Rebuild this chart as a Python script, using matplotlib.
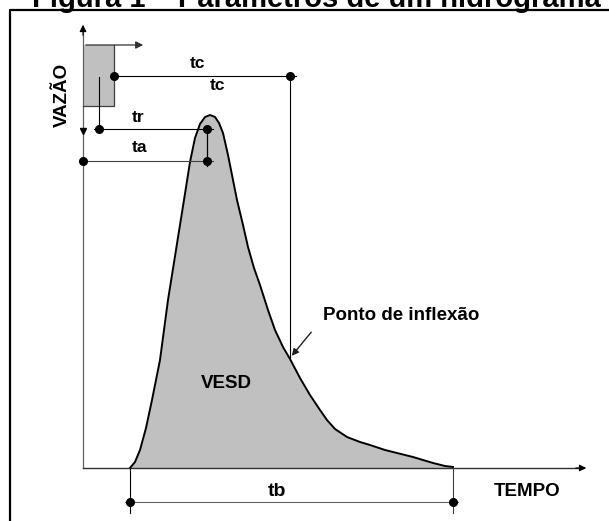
import numpy as np
from matplotlib import pyplot as plt

# hidrograma (tempo, vazao), em unidades do desenho
tempo = [47, 52, 57, 63, 69, 77, 85, 93, 101, 107, 112, 117, 122, 127, 132, 136,
         140, 145, 150, 154, 160, 165, 171, 177, 185, 192, 200, 207, 217, 227,
         237, 244, 252, 264, 277, 287, 302, 314, 330, 350, 362, 370]
vazao = [0, 6, 18, 40, 68, 108, 168, 218, 268, 306, 330, 344, 351, 353, 351, 345,
         335, 313, 288, 268, 243, 221, 200, 183, 158, 138, 121, 109, 90, 73,
         58, 48, 39, 31, 26, 23, 18, 15, 11, 5, 2, 1]

# chuva (bloco do hietograma)
chuva_t = [0, 31]
chuva_topo = 423
chuva_base = 362

# tempos caracteristicos
t_centro_chuva = 16
t_fim_chuva = 31
t_pico = 124
t_inflexao = 207
t_inicio = 47
t_fim = 370

cor_eixo = '#606060'
preto = 'black'
fonte = 'Liberation Sans'

fig = plt.figure(figsize=(6.09, 5.21), dpi=100)
ax = fig.add_axes([0, 0, 1, 1])
ax.set_xlim(-83, 526)
ax.set_ylim(-53, 468)
ax.axis('off')

# moldura
ax.plot([-73, -73, 530], [-60, 458, 458], color='black', lw=1.6, clip_on=False)

# titulo (cortado no topo)
ax.text(-51, 461, 'Figura 1 – Parâmetros de um hidrograma', fontsize=21,
        fontweight='bold', family=fonte, ha='left', va='baseline')

# hidrograma
ax.fill_between(tempo, vazao, 0, color='#c0c0c0', lw=0)
ax.plot(tempo, vazao, color=preto, lw=1.4)

# eixos
ax.plot([0, 0], [0, 440], color=cor_eixo, lw=0.9)
ax.annotate('', xy=(0, 446), xytext=(0, 430),
            arrowprops=dict(arrowstyle='-|>', color=preto, lw=0.8, mutation_scale=10))
ax.plot([0], [337], marker='v', color=preto, ms=5)
ax.plot([0, 500], [0, 0], color='#303030', lw=1.0)
ax.annotate('', xy=(506, 0), xytext=(490, 0),
            arrowprops=dict(arrowstyle='-|>', color=preto, lw=0.8, mutation_scale=10))

# chuva
ax.fill_between(chuva_t, chuva_base, chuva_topo, color='#c0c0c0', lw=0)
ax.plot([chuva_t[1], chuva_t[1], chuva_t[0]], [chuva_topo, chuva_base, chuva_base],
        color='#404040', lw=0.9)
ax.annotate('', xy=(63, chuva_topo), xytext=(0, chuva_topo),
            arrowprops=dict(arrowstyle='-|>', color='#303030', lw=0.9, mutation_scale=11))

ms = 5.5
fs_t = 12.5
# tc
y_tc = 392
ax.plot([t_fim_chuva, t_inflexao + 6], [y_tc, y_tc], color=preto, lw=0.8)
ax.plot([t_inflexao, t_inflexao], [y_tc, 110], color=preto, lw=0.8)
ax.plot([t_fim_chuva, t_inflexao], [y_tc, y_tc], 'o', color=preto, ms=ms)
ax.text(114, 405, 'tc', fontsize=fs_t, fontweight='bold', family=fonte, ha='center', va='center')
ax.text(134, 382, 'tc', fontsize=fs_t, fontweight='bold', family=fonte, ha='center', va='center')

# tr
y_tr = 339
ax.plot([t_centro_chuva, t_centro_chuva], [391, y_tr], color=preto, lw=0.8)
ax.plot([t_centro_chuva - 5, t_pico + 6], [y_tr, y_tr], color=preto, lw=0.8)
ax.plot([t_centro_chuva, t_pico], [y_tr, y_tr], 'o', color=preto, ms=ms)
ax.text(55, 350, 'tr', fontsize=fs_t, fontweight='bold', family=fonte, ha='center', va='center')

# ta
y_ta = 307
ax.plot([0, t_pico + 6], [y_ta, y_ta], color='#404040', lw=0.8)
ax.plot([t_pico, t_pico], [y_tr, y_ta - 5], color=preto, lw=0.9)
ax.plot([0, t_pico], [y_ta, y_ta], 'o', color=preto, ms=ms)
ax.text(57, 320, 'ta', fontsize=fs_t, fontweight='bold', family=fonte, ha='center', va='center')

# tb
y_tb = -34
ax.plot([t_inicio, t_inicio], [0, -45], color=preto, lw=0.8)
ax.plot([t_fim, t_fim], [0, -45], color='#404040', lw=0.8)
ax.plot([t_inicio - 5, t_fim + 5], [y_tb, y_tb], color='#606060', lw=0.8)
ax.plot([t_inicio, t_fim], [y_tb, y_tb], 'o', color=preto, ms=ms)
ax.text(194, -23, 'tb', fontsize=14, fontweight='bold', family=fonte, ha='center', va='center')

# textos
ax.text(143, 84, 'VESD', fontsize=13.5, fontweight='bold', family=fonte, ha='center', va='center')
ax.text(240, 153, 'Ponto de inflexão', fontsize=13.5, fontweight='bold', family=fonte,
        ha='left', va='center')
ax.annotate('', xy=(207, 110), xytext=(230, 138),
            arrowprops=dict(arrowstyle='-|>', color='#202020', lw=1.0, mutation_scale=10))
ax.text(444, -24, 'TEMPO', fontsize=13.5, fontweight='bold', family=fonte, ha='center', va='center')
ax.text(-21, 373, 'VAZÃO', fontsize=13.5, fontweight='bold', family=fonte, ha='center',
        va='center', rotation=90)

fig.savefig('out.png', dpi=100)
